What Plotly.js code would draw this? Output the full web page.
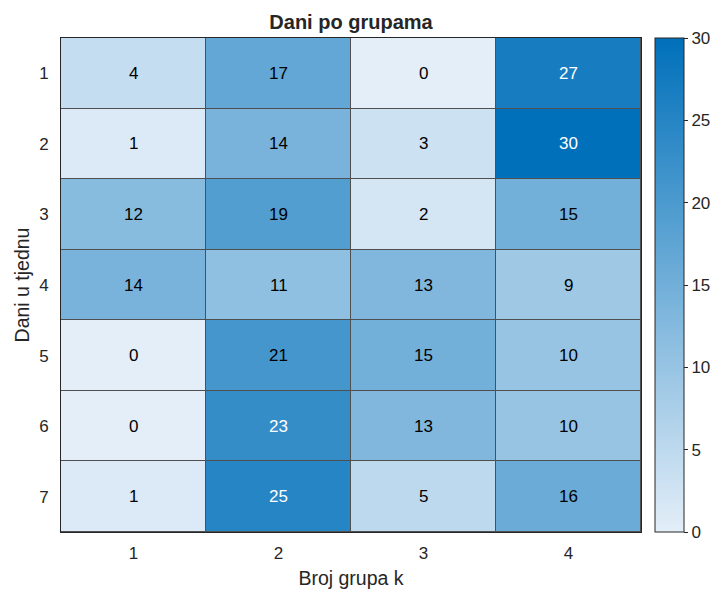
<!DOCTYPE html>
<html>
<head>
<meta charset="utf-8">
<script src="https://cdn.plot.ly/plotly-3.0.1.min.js"></script>
<style>html,body{margin:0;padding:0;background:#fff;}#chart{width:717px;height:595px;}</style>
</head>
<body>
<div id="chart"></div>
<script>
const groups = ['1', '2', '3', '4'];
const days = ['1', '2', '3', '4', '5', '6', '7'];
const values = [
  [4, 17, 0, 27],
  [1, 14, 3, 30],
  [12, 19, 2, 15],
  [14, 11, 13, 9],
  [0, 21, 15, 10],
  [0, 23, 13, 10],
  [1, 25, 5, 16]
];
const colorbarTicks = [0, 5, 10, 15, 20, 25, 30];

const font = 'Liberation Sans, Arial, Helvetica, sans-serif';
const zmin = 0, zmax = 30;

const annotations = [];
days.forEach((d, i) => {
  groups.forEach((g, j) => {
    const v = values[i][j];
    annotations.push({
      x: j, y: i, xref: 'x', yref: 'y', text: String(v), showarrow: false,
      font: {family: font, size: 17, color: v > 22 ? '#ffffff' : '#000000'}
    });
  });
});

const trace = {
  type: 'heatmap',
  x: groups, y: days, z: values,
  zmin: zmin, zmax: zmax,
  colorscale: [[0, '#E3EEF8'], [1, '#0070BA']],
  xgap: 1, ygap: 1,
  hoverinfo: 'skip',
  colorbar: {
    x: 655/717, xanchor: 'left', xref: 'container',
    y: 0.5, yanchor: 'middle',
    thickness: 29, thicknessmode: 'pixels',
    len: 1, lenmode: 'fraction',
    outlinecolor: '#262626', outlinewidth: 1,
    tickvals: colorbarTicks, ticks: 'outside', ticklen: 4, tickcolor: '#262626',
    tickfont: {family: font, size: 17, color: '#262626'},
    xpad: 0, ypad: 0
  }
};

const layout = {
  width: 717, height: 595,
  margin: {l: 61, r: 76, t: 38, b: 63},
  paper_bgcolor: '#ffffff',
  plot_bgcolor: '#4f4f4f',
  font: {family: font, size: 17, color: '#262626'},
  title: {text: '<b>Dani po grupama</b>', x: 351/717, xanchor: 'center', y: 1 - 22/595, yanchor: 'middle',
          font: {family: font, size: 20, color: '#262626'}},
  xaxis: {
    type: 'category', showgrid: false, zeroline: false,
    range: [-0.5, groups.length - 0.5],
    showline: true, linecolor: '#262626', linewidth: 1, mirror: true,
    ticks: 'outside', ticklen: 6, tickcolor: 'rgba(0,0,0,0)',
    tickfont: {family: font, size: 17, color: '#262626'},
    title: {text: 'Broj grupa k', font: {family: font, size: 19.5, color: '#262626'}, standoff: 8}
  },
  yaxis: {
    type: 'category', showgrid: false, zeroline: false,
    range: [days.length - 0.5, -0.5],
    showline: true, linecolor: '#262626', linewidth: 1, mirror: true,
    ticks: 'outside', ticklen: 8, tickcolor: 'rgba(0,0,0,0)',
    tickfont: {family: font, size: 17, color: '#262626'},
    title: {text: 'Dani u tjednu', font: {family: font, size: 19.5, color: '#262626'}, standoff: 4}
  },
  annotations: annotations
};

Plotly.newPlot('chart', [trace], layout, {displayModeBar: false, staticPlot: true});
</script>
</body>
</html>
